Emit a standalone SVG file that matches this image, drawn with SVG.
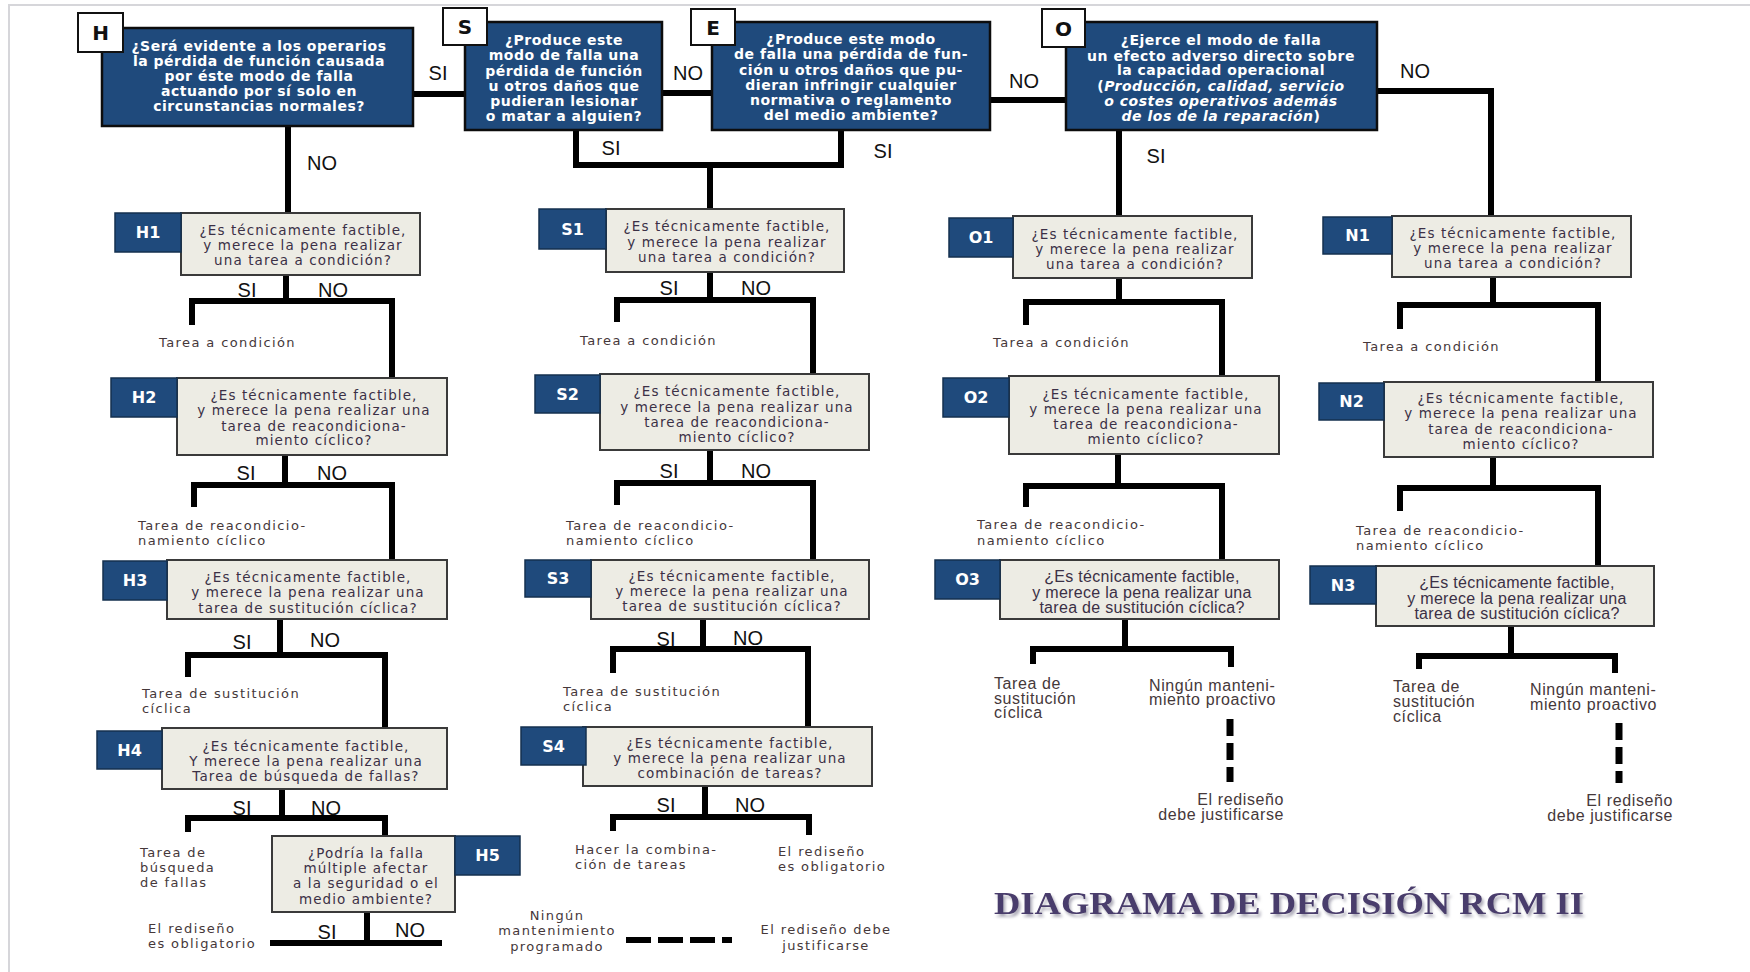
<svg xmlns="http://www.w3.org/2000/svg" width="1750" height="972" viewBox="0 0 1750 972">
<defs>
<style>
.frame{stroke:#d6d6da;stroke-width:2;fill:none}
.top{fill:#1f4a7c;stroke:#0d0d0d;stroke-width:2.5}
.lbl{fill:#ffffff;stroke:#111111;stroke-width:2}
.lbltxt{font-family:"DejaVu Sans",sans-serif;font-weight:bold;font-size:20px;fill:#111111;text-anchor:middle}
.tt{font-family:"DejaVu Sans",sans-serif;font-weight:bold;font-size:14px;letter-spacing:0.5px;fill:#ffffff;text-anchor:middle}
.it{font-style:italic}
.q{fill:#edece4;stroke:#3a3a3a;stroke-width:2}
.sub{fill:#1f4a7c;stroke:#14304f;stroke-width:1.5}
.subtxt{font-family:"DejaVu Sans",sans-serif;font-weight:bold;font-size:16px;fill:#ffffff;text-anchor:middle}
.qt{font-family:"DejaVu Sans",sans-serif;font-size:13.5px;letter-spacing:1.1px;fill:#3b3046;text-anchor:middle}
.qn{font-family:"Liberation Sans",sans-serif;font-size:16px;letter-spacing:0.3px;fill:#3b3046;text-anchor:middle}
.out{font-family:"DejaVu Sans",sans-serif;font-size:13px;letter-spacing:1.4px;fill:#45383a}
.outn{font-family:"Liberation Sans",sans-serif;font-size:16px;letter-spacing:0.6px;fill:#45383a}
.yn{font-family:"Liberation Sans",sans-serif;font-size:20px;fill:#111111;text-anchor:middle}
.ln{stroke:#000000;stroke-width:6;fill:none;stroke-linejoin:miter}
.dh{stroke:#000000;stroke-width:6;fill:none;stroke-dasharray:25 7}
.dv{stroke:#000000;stroke-width:7;fill:none;stroke-dasharray:17 7}
.title{font-family:"Liberation Serif",serif;font-weight:bold;font-size:32px;fill:#4a3c6c;text-anchor:middle}
</style>
<filter id="shadow" x="-5%" y="-30%" width="110%" height="160%">
<feDropShadow dx="2" dy="3" stdDeviation="1.5" flood-color="#9a98a8" flood-opacity="0.8"/>
</filter>
</defs>
<rect width="1750" height="972" fill="#ffffff"/>
<path class="frame" d="M9 972 V5 H1750"/>

<g id="connectors">
<path class="ln" d="M413 94 H465"/>
<path class="ln" d="M662 93 H712"/>
<path class="ln" d="M990 100 H1066"/>
<path class="ln" d="M1377 91 H1491 V216"/>
<path class="ln" d="M288 126 V213"/>
<path class="ln" d="M576 130 V165 H841 V130"/>
<path class="ln" d="M710 165 V209"/>
<path class="ln" d="M1119 130 V216"/>

<path class="ln" d="M286 275 V301"/>
<path class="ln" d="M192 325 V301 H392 V378"/>
<path class="ln" d="M285 455 V485"/>
<path class="ln" d="M194 507 V485 H392 V560"/>
<path class="ln" d="M280 619 V655"/>
<path class="ln" d="M188 677 V655 H385 V728"/>
<path class="ln" d="M282 789 V818"/>
<path class="ln" d="M188 832 V818 H385 V836"/>
<path class="ln" d="M367 912 V943"/>
<path class="ln" d="M270 943 H442"/>

<path class="ln" d="M710 272 V300"/>
<path class="ln" d="M617 322 V300 H813 V374"/>
<path class="ln" d="M710 450 V483"/>
<path class="ln" d="M617 505 V483 H813 V560"/>
<path class="ln" d="M703 619 V649"/>
<path class="ln" d="M613 673 V649 H808 V727"/>
<path class="ln" d="M705 786 V817"/>
<path class="ln" d="M613 831 V817 H809 V835"/>
<path class="dh" d="M626 940 H732"/>

<path class="ln" d="M1119 278 V302"/>
<path class="ln" d="M1026 325 V302 H1222 V376"/>
<path class="ln" d="M1118 454 V486"/>
<path class="ln" d="M1026 507 V486 H1222 V560"/>
<path class="ln" d="M1125 619 V649"/>
<path class="ln" d="M1033 664 V649 H1231 V667"/>
<path class="dv" d="M1230 719 V782"/>

<path class="ln" d="M1493 277 V305"/>
<path class="ln" d="M1400 329 V305 H1598 V382"/>
<path class="ln" d="M1493 457 V488"/>
<path class="ln" d="M1400 511 V488 H1598 V566"/>
<path class="ln" d="M1511 626 V656"/>
<path class="ln" d="M1419 669 V656 H1615 V673"/>
<path class="dv" d="M1619 723 V783"/>

<text class="yn" x="438" y="80">SI</text>
<text class="yn" x="688" y="80">NO</text>
<text class="yn" x="1024" y="88">NO</text>
<text class="yn" x="1415" y="78">NO</text>
<text class="yn" x="322" y="170">NO</text>
<text class="yn" x="611" y="155">SI</text>
<text class="yn" x="883" y="158">SI</text>
<text class="yn" x="1156" y="163">SI</text>

<text class="yn" x="247" y="297">SI</text>
<text class="yn" x="333" y="297">NO</text>
<text class="yn" x="246" y="480">SI</text>
<text class="yn" x="332" y="480">NO</text>
<text class="yn" x="242" y="649">SI</text>
<text class="yn" x="325" y="647">NO</text>
<text class="yn" x="242" y="815">SI</text>
<text class="yn" x="326" y="815">NO</text>
<text class="yn" x="327" y="939">SI</text>
<text class="yn" x="410" y="937">NO</text>

<text class="yn" x="669" y="295">SI</text>
<text class="yn" x="756" y="295">NO</text>
<text class="yn" x="669" y="478">SI</text>
<text class="yn" x="756" y="478">NO</text>
<text class="yn" x="666" y="646">SI</text>
<text class="yn" x="748" y="645">NO</text>
<text class="yn" x="666" y="812">SI</text>
<text class="yn" x="750" y="812">NO</text>
</g>

<g id="node-H">
<rect class="top" x="102" y="28" width="311" height="98"/>
<rect class="lbl" x="78" y="13" width="45" height="39"/>
<text class="lbltxt" x="100.5" y="40">H</text>
<text class="tt" x="259" y="50.5">¿Será evidente a los operarios</text>
<text class="tt" x="259" y="65.5">la pérdida de función causada</text>
<text class="tt" x="259" y="80.5">por éste modo de falla</text>
<text class="tt" x="259" y="95.5">actuando por sí solo en</text>
<text class="tt" x="259" y="110.5">circunstancias normales?</text>
</g>

<g id="node-S">
<rect class="top" x="465" y="22" width="197" height="108"/>
<rect class="lbl" x="443" y="8" width="44" height="37"/>
<text class="lbltxt" x="465" y="34">S</text>
<text class="tt" x="564" y="45">¿Produce este</text>
<text class="tt" x="564" y="60">modo de falla una</text>
<text class="tt" x="564" y="75.5">pérdida de función</text>
<text class="tt" x="564" y="90.5">u otros daños que</text>
<text class="tt" x="564" y="105.5">pudieran lesionar</text>
<text class="tt" x="564" y="120.5">o matar a alguien?</text>
</g>

<g id="node-E">
<rect class="top" x="712" y="22" width="278" height="108"/>
<rect class="lbl" x="691" y="9" width="44" height="36"/>
<text class="lbltxt" x="713" y="35">E</text>
<text class="tt" x="851" y="43.5">¿Produce este modo</text>
<text class="tt" x="851" y="59">de falla una pérdida de fun-</text>
<text class="tt" x="851" y="74.5">ción u otros daños que pu-</text>
<text class="tt" x="851" y="89.5">dieran infringir cualquier</text>
<text class="tt" x="851" y="104.5">normativa o reglamento</text>
<text class="tt" x="851" y="119.5">del medio ambiente?</text>
</g>

<g id="node-O">
<rect class="top" x="1066" y="22" width="311" height="108"/>
<rect class="lbl" x="1042" y="9" width="43" height="38"/>
<text class="lbltxt" x="1063.5" y="36">O</text>
<text class="tt" x="1221" y="45">¿Ejerce el modo de falla</text>
<text class="tt" x="1221" y="60.5">un efecto adverso directo sobre</text>
<text class="tt" x="1221" y="75">la capacidad operacional</text>
<text class="tt" x="1221" y="90.5">(<tspan class="it">Producción, calidad, servicio</tspan></text>
<text class="tt it" x="1221" y="105.5">o costes operativos además</text>
<text class="tt" x="1221" y="120.5"><tspan class="it">de los de la reparación</tspan>)</text>
</g>

<g id="node-H1">
<rect class="q" x="181" y="213" width="239" height="62"/>
<rect class="sub" x="115" y="213" width="66" height="39"/>
<text class="subtxt" x="148" y="238">H1</text>
<text class="qt" x="303" y="235">¿Es técnicamente factible,</text>
<text class="qt" x="303" y="250">y merece la pena realizar</text>
<text class="qt" x="303" y="265">una tarea a condición?</text>
</g>
<g id="out-H1"><text class="out" x="159" y="347">Tarea a condición</text></g>

<g id="node-H2">
<rect class="q" x="177" y="378" width="270" height="77"/>
<rect class="sub" x="111" y="378" width="66" height="39"/>
<text class="subtxt" x="144" y="403">H2</text>
<text class="qt" x="314" y="399.5">¿Es técnicamente factible,</text>
<text class="qt" x="314" y="415">y merece la pena realizar una</text>
<text class="qt" x="314" y="430.5">tarea de reacondiciona-</text>
<text class="qt" x="314" y="445">miento cíclico?</text>
</g>
<g id="out-H2">
<text class="out" x="138" y="529.5">Tarea de reacondicio-</text>
<text class="out" x="138" y="544.5">namiento cíclico</text>
</g>

<g id="node-H3">
<rect class="q" x="167" y="560" width="280" height="59"/>
<rect class="sub" x="103" y="561" width="64" height="39"/>
<text class="subtxt" x="135" y="586">H3</text>
<text class="qt" x="308" y="581.5">¿Es técnicamente factible,</text>
<text class="qt" x="308" y="597">y merece la pena realizar una</text>
<text class="qt" x="308" y="612.5">tarea de sustitución cíclica?</text>
</g>
<g id="out-H3">
<text class="out" x="142" y="697.5">Tarea de sustitución</text>
<text class="out" x="142" y="712.5">cíclica</text>
</g>

<g id="node-H4">
<rect class="q" x="162" y="728" width="285" height="61"/>
<rect class="sub" x="97" y="731" width="65" height="38"/>
<text class="subtxt" x="129.5" y="756">H4</text>
<text class="qt" x="306" y="750.5">¿Es técnicamente factible,</text>
<text class="qt" x="306" y="765.5">Y merece la pena realizar una</text>
<text class="qt" x="306" y="781">Tarea de búsqueda de fallas?</text>
</g>
<g id="out-H4">
<text class="out" x="140" y="857">Tarea de</text>
<text class="out" x="140" y="872">búsqueda</text>
<text class="out" x="140" y="887">de fallas</text>
</g>

<g id="node-H5">
<rect class="q" x="272" y="836" width="183" height="76"/>
<rect class="sub" x="455" y="836" width="65" height="39"/>
<text class="subtxt" x="487.5" y="861">H5</text>
<text class="qt" x="366" y="857.5">¿Podría la falla</text>
<text class="qt" x="366" y="872.5">múltiple afectar</text>
<text class="qt" x="366" y="887.5">a la seguridad o el</text>
<text class="qt" x="366" y="903.5">medio ambiente?</text>
</g>
<g id="out-H5">
<text class="out" x="148" y="932.5">El rediseño</text>
<text class="out" x="148" y="947.5">es obligatorio</text>
</g>

<g id="node-S1">
<rect class="q" x="606" y="209" width="238" height="63"/>
<rect class="sub" x="539" y="209" width="67" height="40"/>
<text class="subtxt" x="572.5" y="235">S1</text>
<text class="qt" x="727" y="231">¿Es técnicamente factible,</text>
<text class="qt" x="727" y="246.5">y merece la pena realizar</text>
<text class="qt" x="727" y="261.5">una tarea a condición?</text>
</g>
<g id="out-S1"><text class="out" x="580" y="345">Tarea a condición</text></g>

<g id="node-S2">
<rect class="q" x="600" y="374" width="269" height="76"/>
<rect class="sub" x="535" y="375" width="65" height="38"/>
<text class="subtxt" x="567.5" y="400">S2</text>
<text class="qt" x="737" y="396">¿Es técnicamente factible,</text>
<text class="qt" x="737" y="411.5">y merece la pena realizar una</text>
<text class="qt" x="737" y="426.5">tarea de reacondiciona-</text>
<text class="qt" x="737" y="441.5">miento cíclico?</text>
</g>
<g id="out-S2">
<text class="out" x="566" y="529.5">Tarea de reacondicio-</text>
<text class="out" x="566" y="544.5">namiento cíclico</text>
</g>

<g id="node-S3">
<rect class="q" x="591" y="560" width="278" height="59"/>
<rect class="sub" x="525" y="560" width="66" height="37"/>
<text class="subtxt" x="558" y="584">S3</text>
<text class="qt" x="732" y="581">¿Es técnicamente factible,</text>
<text class="qt" x="732" y="596">y merece la pena realizar una</text>
<text class="qt" x="732" y="611">tarea de sustitución cíclica?</text>
</g>
<g id="out-S3">
<text class="out" x="563" y="695.5">Tarea de sustitución</text>
<text class="out" x="563" y="711">cíclica</text>
</g>

<g id="node-S4">
<rect class="q" x="583" y="727" width="289" height="59"/>
<rect class="sub" x="521" y="727" width="65" height="38"/>
<text class="subtxt" x="553.5" y="752">S4</text>
<text class="qt" x="730" y="747.5">¿Es técnicamente factible,</text>
<text class="qt" x="730" y="763">y merece la pena realizar una</text>
<text class="qt" x="730" y="778">combinación de tareas?</text>
</g>
<g id="out-S4">
<text class="out" x="575" y="854">Hacer la combina-</text>
<text class="out" x="575" y="868.5">ción de tareas</text>
<text class="out" x="778" y="856">El rediseño</text>
<text class="out" x="778" y="871">es obligatorio</text>
</g>
<g id="legend">
<text class="out" x="557" y="920" text-anchor="middle">Ningún</text>
<text class="out" x="557" y="935" text-anchor="middle">mantenimiento</text>
<text class="out" x="557" y="950.5" text-anchor="middle">programado</text>
<text class="out" x="826" y="934" text-anchor="middle">El rediseño debe</text>
<text class="out" x="826" y="949.5" text-anchor="middle">justificarse</text>
</g>

<g id="node-O1">
<rect class="q" x="1013" y="216" width="239" height="62"/>
<rect class="sub" x="949" y="218" width="64" height="39"/>
<text class="subtxt" x="981" y="243">O1</text>
<text class="qt" x="1135" y="238.5">¿Es técnicamente factible,</text>
<text class="qt" x="1135" y="253.5">y merece la pena realizar</text>
<text class="qt" x="1135" y="268.5">una tarea a condición?</text>
</g>
<g id="out-O1"><text class="out" x="993" y="347">Tarea a condición</text></g>

<g id="node-O2">
<rect class="q" x="1009" y="376" width="270" height="78"/>
<rect class="sub" x="943" y="378" width="66" height="39"/>
<text class="subtxt" x="976" y="403">O2</text>
<text class="qt" x="1146" y="398.5">¿Es técnicamente factible,</text>
<text class="qt" x="1146" y="413.5">y merece la pena realizar una</text>
<text class="qt" x="1146" y="428.5">tarea de reacondiciona-</text>
<text class="qt" x="1146" y="443.5">miento cíclico?</text>
</g>
<g id="out-O2">
<text class="out" x="977" y="529">Tarea de reacondicio-</text>
<text class="out" x="977" y="544.5">namiento cíclico</text>
</g>

<g id="node-O3">
<rect class="q" x="1000" y="560" width="279" height="59"/>
<rect class="sub" x="935" y="560" width="65" height="39"/>
<text class="subtxt" x="967.5" y="585">O3</text>
<text class="qn" x="1142" y="582">¿Es técnicamente factible,</text>
<text class="qn" x="1142" y="597.5">y merece la pena realizar una</text>
<text class="qn" x="1142" y="613">tarea de sustitución cíclica?</text>
</g>
<g id="out-O3">
<text class="outn" x="994" y="689">Tarea de</text>
<text class="outn" x="994" y="703.5">sustitución</text>
<text class="outn" x="994" y="718">cíclica</text>
<text class="outn" x="1149" y="691">Ningún manteni-</text>
<text class="outn" x="1149" y="705">miento proactivo</text>
<text class="outn" x="1284" y="805" text-anchor="end">El rediseño</text>
<text class="outn" x="1284" y="820" text-anchor="end">debe justificarse</text>
</g>

<g id="node-N1">
<rect class="q" x="1392" y="216" width="239" height="61"/>
<rect class="sub" x="1323" y="217" width="69" height="37"/>
<text class="subtxt" x="1357.5" y="241">N1</text>
<text class="qt" x="1513" y="237.5">¿Es técnicamente factible,</text>
<text class="qt" x="1513" y="252.5">y merece la pena realizar</text>
<text class="qt" x="1513" y="267.5">una tarea a condición?</text>
</g>
<g id="out-N1"><text class="out" x="1363" y="350.5">Tarea a condición</text></g>

<g id="node-N2">
<rect class="q" x="1384" y="382" width="269" height="75"/>
<rect class="sub" x="1319" y="383" width="65" height="37"/>
<text class="subtxt" x="1351.5" y="407">N2</text>
<text class="qt" x="1521" y="403">¿Es técnicamente factible,</text>
<text class="qt" x="1521" y="418">y merece la pena realizar una</text>
<text class="qt" x="1521" y="433.5">tarea de reacondiciona-</text>
<text class="qt" x="1521" y="448.5">miento cíclico?</text>
</g>
<g id="out-N2">
<text class="out" x="1356" y="534.5">Tarea de reacondicio-</text>
<text class="out" x="1356" y="549.5">namiento cíclico</text>
</g>

<g id="node-N3">
<rect class="q" x="1376" y="566" width="278" height="60"/>
<rect class="sub" x="1310" y="566" width="66" height="38"/>
<text class="subtxt" x="1343" y="591">N3</text>
<text class="qn" x="1517" y="588">¿Es técnicamente factible,</text>
<text class="qn" x="1517" y="603.5">y merece la pena realizar una</text>
<text class="qn" x="1517" y="618.5">tarea de sustitución cíclica?</text>
</g>
<g id="out-N3">
<text class="outn" x="1393" y="691.5">Tarea de</text>
<text class="outn" x="1393" y="706.5">sustitución</text>
<text class="outn" x="1393" y="721.5">cíclica</text>
<text class="outn" x="1530" y="695">Ningún manteni-</text>
<text class="outn" x="1530" y="710">miento proactivo</text>
<text class="outn" x="1673" y="805.5" text-anchor="end">El rediseño</text>
<text class="outn" x="1673" y="821" text-anchor="end">debe justificarse</text>
</g>

<g id="title">
<text class="title" x="1289" y="914" textLength="590" lengthAdjust="spacingAndGlyphs" filter="url(#shadow)">DIAGRAMA DE DECISIÓN RCM II</text>
</g>
</svg>
